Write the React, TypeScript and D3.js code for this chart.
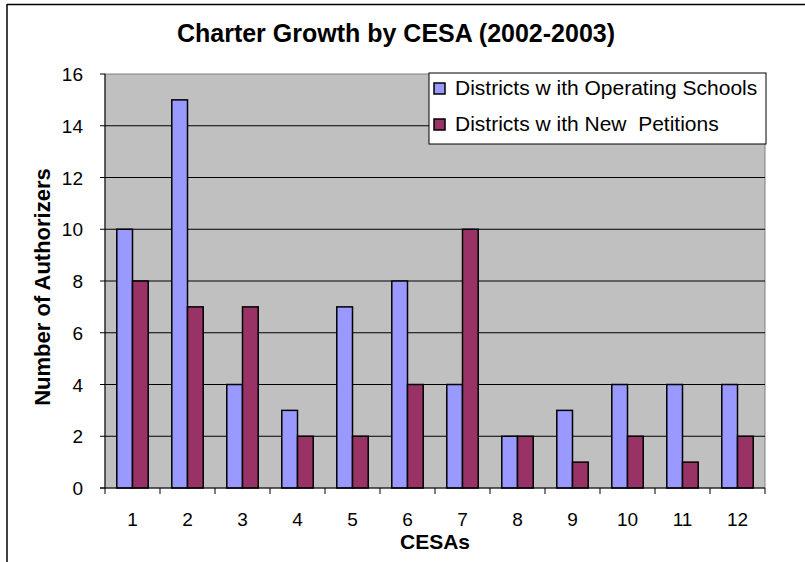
import React, { useRef, useEffect } from "react";
import * as d3 from "d3";

const categories = ["1", "2", "3", "4", "5", "6", "7", "8", "9", "10", "11", "12"];
const operating = [10, 15, 4, 3, 7, 8, 4, 2, 3, 4, 4, 4];
const petitions = [8, 7, 7, 2, 2, 4, 10, 2, 1, 2, 1, 2];
const seriesNames = ["Districts w ith Operating Schools", "Districts w ith New  Petitions"];
const seriesColors = ["#9999FF", "#993366"];
const yTicks = [0, 2, 4, 6, 8, 10, 12, 14, 16];

const W = 805;
const H = 562;

export default function App() {
  const svgRef = useRef<SVGSVGElement>(null);

  useEffect(() => {
    const svg = d3.select(svgRef.current);
    svg.selectAll("*").remove();
    const font = "'Liberation Sans', Arial, sans-serif";

    const left = 105, right = 765, top = 74, bottom = 488;

    // frame of the chart area (top + left only, picture is cropped)
    svg.append("line").attr("x1", 7).attr("x2", W).attr("y1", 4.5).attr("y2", 4.5)
      .attr("stroke", "#000").attr("stroke-width", 1.5);
    svg.append("line").attr("x1", 7).attr("x2", 7).attr("y1", 4).attr("y2", H)
      .attr("stroke", "#000").attr("stroke-width", 1.5);

    const x = d3.scaleBand().domain(categories).range([left, right]);
    const y = d3.scaleLinear().domain([0, 16]).range([bottom, top]);
    const barW = x.bandwidth() / 3.5;

    // plot area
    svg.append("rect").attr("x", left).attr("y", top)
      .attr("width", right - left).attr("height", bottom - top)
      .attr("fill", "#C0C0C0").attr("stroke", "#808080").attr("stroke-width", 1);

    // gridlines
    svg.selectAll(".grid").data(yTicks.filter(t => t > 0 && t < 16)).join("line")
      .attr("x1", left).attr("x2", right)
      .attr("y1", d => y(d)).attr("y2", d => y(d))
      .attr("stroke", "#000").attr("stroke-width", 1);

    // bars
    const groups = [operating, petitions];
    groups.forEach((vals, si) => {
      svg.selectAll(`.bar${si}`).data(vals).join("rect")
        .attr("x", (d, i) => (x(categories[i]) as number) + x.bandwidth() / 2 - barW + si * barW)
        .attr("y", d => y(d))
        .attr("width", barW)
        .attr("height", d => bottom - y(d))
        .attr("fill", seriesColors[si])
        .attr("stroke", "#000").attr("stroke-width", 1.5);
    });

    // y axis
    svg.append("line").attr("x1", left).attr("x2", left).attr("y1", top).attr("y2", bottom)
      .attr("stroke", "#000");
    svg.selectAll(".ytick").data(yTicks).join("line")
      .attr("x1", left - 5).attr("x2", left)
      .attr("y1", d => y(d)).attr("y2", d => y(d)).attr("stroke", "#000");
    svg.selectAll(".ylab").data(yTicks).join("text")
      .attr("x", left - 22).attr("y", d => y(d) + 7)
      .attr("text-anchor", "end").attr("font-family", font).attr("font-size", 19)
      .text(d => d);

    // x axis
    svg.append("line").attr("x1", left - 5).attr("x2", right).attr("y1", bottom).attr("y2", bottom)
      .attr("stroke", "#000");
    const bounds = categories.map(c => x(c) as number).concat([right]);
    svg.selectAll(".xtick").data(bounds).join("line")
      .attr("x1", d => d).attr("x2", d => d)
      .attr("y1", bottom).attr("y2", bottom + 6).attr("stroke", "#000");
    svg.selectAll(".xlab").data(categories).join("text")
      .attr("x", d => (x(d) as number) + x.bandwidth() / 2).attr("y", 526)
      .attr("text-anchor", "middle").attr("font-family", font).attr("font-size", 19)
      .text(d => d);

    // titles
    svg.append("text").attr("x", 396).attr("y", 42).attr("text-anchor", "middle")
      .attr("font-family", font).attr("font-weight", "bold").attr("font-size", 25)
      .text("Charter Growth by CESA (2002-2003)");
    svg.append("text").attr("x", 435).attr("y", 549).attr("text-anchor", "middle")
      .attr("font-family", font).attr("font-weight", "bold").attr("font-size", 21)
      .text("CESAs");
    svg.append("text")
      .attr("transform", `translate(50,287) rotate(-90)`)
      .attr("text-anchor", "middle")
      .attr("font-family", font).attr("font-weight", "bold").attr("font-size", 22)
      .text("Number of Authorizers");

    // legend
    const lg = svg.append("g");
    lg.append("rect").attr("x", 429).attr("y", 73).attr("width", 337).attr("height", 71)
      .attr("fill", "#fff").attr("stroke", "#000").attr("stroke-width", 1);
    seriesNames.forEach((name, i) => {
      const cy = 88 + i * 36;
      lg.append("rect").attr("x", 434).attr("y", cy - 5).attr("width", 11).attr("height", 11)
        .attr("fill", seriesColors[i]).attr("stroke", "#000").attr("stroke-width", 1.5);
      lg.append("text").attr("x", 455).attr("y", cy + 7)
        .attr("font-family", font).attr("font-size", 21)
        .attr("xml:space", "preserve").style("white-space", "pre")
        .text(name);
    });
  }, []);

  return (
    <svg ref={svgRef} width={W} height={H} style={{ position: "absolute", left: 0, top: 0, background: "#fff" }} />
  );
}
